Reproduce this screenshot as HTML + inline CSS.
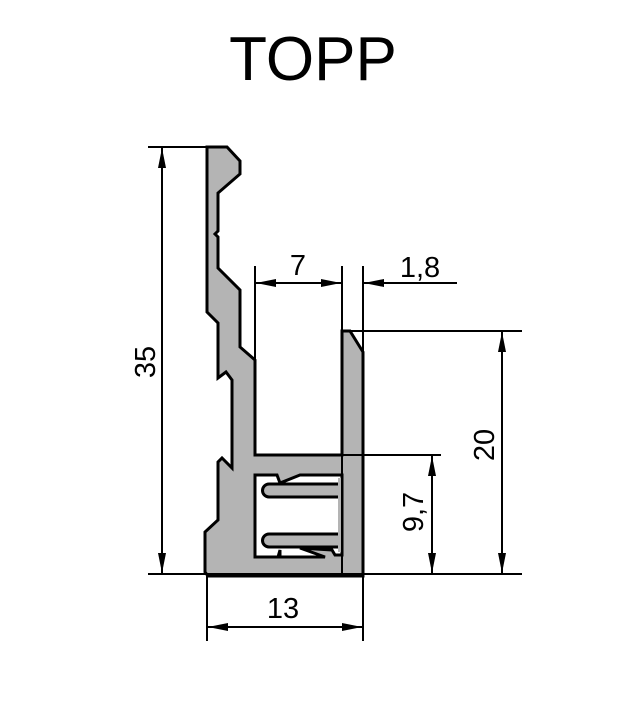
<!DOCTYPE html>
<html><head><meta charset="utf-8"><style>
html,body{margin:0;padding:0;background:#fff;}
svg{display:block;}
text{font-family:"Liberation Sans",Arial,sans-serif;fill:#000;}
</style></head><body>
<svg width="635" height="705" viewBox="0 0 635 705" xmlns="http://www.w3.org/2000/svg">
<defs>
<marker id="a" viewBox="0 0 20 8" refX="20" refY="4" markerWidth="20" markerHeight="8" markerUnits="userSpaceOnUse" orient="auto-start-reverse">
<path d="M0,0 L20,4 L0,8 z" fill="#000"/>
</marker>
</defs>
<text x="313" y="80" font-size="62" text-anchor="middle">TOPP</text>

<path d="M207,147 L227,147 L240,161 L240,174 L218,193 L218,231 L215,234 L218,237 L218,268 L240,290 L240,347 L255,360 L255,455 L342,455 L342,331 L350,331 L363,352 L363,576 L208,576 L205,572 L205,532 L218,520 L218,462 L222,458 L232,468 L232,380 L226,372 L218,378 L218,323 L207,312 Z" fill="#b4b4b4" stroke="#000" stroke-width="3" stroke-linejoin="miter"/>
<path d="M255,475 L277,475 L280,483 L300,475 L342,475 L342,555 L335,555 L332,550 L300,548 L325,557 L280,557 L280,550 L278,557 L255,557 Z" fill="#fff" stroke="#000" stroke-width="3"/>
<path d="M342,484 L269,484 A6.5,6.5 0 0 0 269,497 L342,497" fill="#b4b4b4" stroke="#000" stroke-width="3"/>
<path d="M342,534 L269,534 A6.5,6.5 0 0 0 269,547 L342,547" fill="#b4b4b4" stroke="#000" stroke-width="3"/>
<rect x="338" y="478" width="4" height="74" fill="#b4b4b4"/>
<line x1="342" y1="331" x2="342" y2="576" stroke="#000" stroke-width="2"/>

<g stroke="#000" stroke-width="2" fill="none">
<line x1="148" y1="147" x2="207" y2="147"/>
<line x1="148" y1="574" x2="522" y2="574"/>
<line x1="162" y1="148" x2="162" y2="573" marker-start="url(#a)" marker-end="url(#a)"/>
<line x1="255" y1="266" x2="255" y2="455"/>
<line x1="342" y1="266" x2="342" y2="331"/>
<line x1="256" y1="283" x2="341" y2="283" marker-start="url(#a)" marker-end="url(#a)"/>
<line x1="363" y1="266" x2="363" y2="352"/>
<line x1="342" y1="283" x2="322" y2="283"/>
<line x1="457" y1="283" x2="364" y2="283" marker-end="url(#a)"/>
<line x1="342" y1="331" x2="522" y2="331"/>
<line x1="502" y1="332" x2="502" y2="573" marker-start="url(#a)" marker-end="url(#a)"/>
<line x1="342" y1="455" x2="441" y2="455"/>
<line x1="432" y1="456" x2="432" y2="573" marker-start="url(#a)" marker-end="url(#a)"/>
<line x1="207" y1="576" x2="207" y2="641"/>
<line x1="363" y1="576" x2="363" y2="641"/>
<line x1="208" y1="627" x2="362" y2="627" marker-start="url(#a)" marker-end="url(#a)"/>
</g>

<text x="298" y="275" font-size="29" text-anchor="middle">7</text>
<text x="420" y="277" font-size="29" text-anchor="middle">1,8</text>
<text x="283" y="618" font-size="29" text-anchor="middle">13</text>
<text transform="translate(155,362) rotate(-90)" font-size="29" text-anchor="middle">35</text>
<text transform="translate(494,445) rotate(-90)" font-size="29" text-anchor="middle">20</text>
<text transform="translate(423,512) rotate(-90)" font-size="29" text-anchor="middle">9,7</text>
</svg>
</body></html>
